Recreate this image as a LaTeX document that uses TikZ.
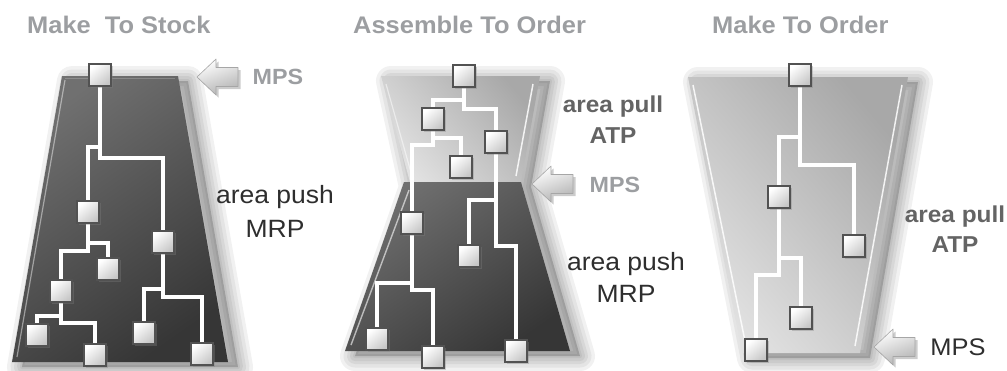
\documentclass[tikz,border=0pt]{standalone}
\usepackage{fontspec}
\setmainfont{Liberation Sans}
\newfontfamily\labelfont[FakeStretch=1.06]{Liberation Sans}
\usetikzlibrary{shadows}

\definecolor{titlegray}{HTML}{9C9EA1}
\definecolor{pullgray}{HTML}{646464}
\definecolor{pushgray}{HTML}{2E2E2E}
\definecolor{darktop}{HTML}{707070}
\definecolor{darkbot}{HTML}{363636}
\definecolor{lighttop}{HTML}{A8A8A8}
\definecolor{lightbot}{HTML}{E2E2E2}

\pgfdeclarelayer{shapes}
\pgfdeclarelayer{wires}
\pgfsetlayers{shapes,wires,main}

% blurred cast shadow, thrown to the lower right of a closed outline:
% one flat fill plus a stack of faint wide strokes that fade outwards
\newcommand\softshadow[1]{%
  \fill[black,opacity=0.18,shift={(10,5)}] #1;
  \foreach \w in {30,23,16,10,4}{%
    \draw[black,opacity=0.055,line width=\w pt,line join=round,shift={(10,5)}] #1;}}

\tikzset{
  title/.style={font=\labelfont\bfseries\fontsize{24}{28}\selectfont, text=titlegray, inner sep=0pt, anchor=base west},
  mpsgray/.style={font=\labelfont\bfseries\fontsize{22}{26}\selectfont, text=titlegray, inner sep=0pt, anchor=base},
  mpsdark/.style={font=\labelfont\fontsize{24}{28}\selectfont, text=pushgray, inner sep=0pt, anchor=base},
  pulltext/.style={font=\labelfont\bfseries\fontsize{23}{27}\selectfont, text=pullgray, inner sep=0pt, anchor=base},
  pushtext/.style={font=\labelfont\fontsize{25}{29}\selectfont, text=pushgray, inner sep=0pt, anchor=base},
  part/.style={rectangle, minimum size=22pt, inner sep=0pt, draw=black!68, line width=1.7pt,
    top color=white, bottom color=black!22, shading angle=40,
    drop shadow={shadow xshift=1.8pt, shadow yshift=-1.8pt, opacity=0.35}},
  wire/.style={draw=black!50, line width=0.6pt, double=white, double distance=3.2pt},
  darkfill/.style={shading=axis, top color=darktop, bottom color=darkbot, shading angle=35},
  lightfill/.style={shading=axis, top color=lighttop, bottom color=lightbot, shading angle=-50},
  mpsarrow/.pic={
    \fill[black, opacity=0.2, shift={(2.5,2.5)}]
      (0,0) -- (19,-18) -- (19,-9.5) -- (41,-9.5) -- (41,9.5) -- (19,9.5) -- (19,18) -- cycle;
    \shade[top color=white, bottom color=black!30, shading angle=20, draw=black!35, line width=0.6pt, line join=round]
      (0,0) -- (19,-18) -- (19,-9.5) -- (41,-9.5) -- (41,9.5) -- (19,9.5) -- (19,18) -- cycle;
  },
}

\begin{document}
\begin{tikzpicture}[x=1pt, y=-1pt]
\useasboundingbox (0,0) rectangle (1007,370);

% ---------- bodies ----------
\begin{pgfonlayer}{shapes}
  % make to stock
  \softshadow{(62,76) -- (178,76) -- (228,362) -- (12,362) -- cycle}
  \shade[darkfill] (62,76) -- (178,76) -- (228,362) -- (12,362) -- cycle;
  \draw[white, opacity=0.45, line width=1.2pt] (65,80) -- (17,357);
  \draw[white, opacity=0.2, line width=1pt] (65,78) -- (175,78);

  % assemble to order
  \softshadow{(381,76) -- (540,76) -- (521,182) -- (570,351) -- (345,351) -- (404,182) -- cycle}
  \shade[lightfill] (381,76) -- (540,76) -- (521,182) -- (410,182) -- cycle;
  \shade[darkfill] (404,182) -- (521,182) -- (570,351) -- (345,351) -- cycle;
  \draw[white, opacity=0.85, line width=1.5pt] (533,84) -- (516,176);
  \draw[white, opacity=0.5, line width=1.2pt] (386,84) -- (412,176);
  \draw[white, opacity=0.6, line width=1.4pt] (409,190) -- (351,345);

  % make to order
  \softshadow{(688,77) -- (908,77) -- (860,353) -- (742,353) -- cycle}
  \shade[lightfill] (688,77) -- (908,77) -- (860,353) -- (742,353) -- cycle;
  \draw[white, opacity=0.85, line width=1.5pt] (693,85) -- (746,346);
  \draw[white, opacity=0.85, line width=1.5pt] (902,85) -- (855,346);
\end{pgfonlayer}

% ---------- titles ----------
\node[title] (t1) at (27,33) {Make\ \ To Stock};
\node[title] (t2) at (353,33) {Assemble To Order};
\node[title] (t3) at (712,33) {Make To Order};

% ---------- side labels ----------
\pic at (197,77) {mpsarrow};
\node[mpsgray] (m1) at (278,84) {MPS};
\node[pushtext] (p1a) at (275,203) {area push};
\node[pushtext] (p1b) at (275,237) {MRP};

\node[pulltext] (l2a) at (613,112) {area pull};
\node[pulltext] (l2b) at (613,143) {ATP};
\pic at (532,184) {mpsarrow};
\node[mpsgray] (m2) at (615,192) {MPS};
\node[pushtext] (p2a) at (626,270) {area push};
\node[pushtext] (p2b) at (626,302) {MRP};

\node[pulltext] (l3a) at (955,222) {area pull};
\node[pulltext] (l3b) at (955,252) {ATP};
\pic at (874,347) {mpsarrow};
\node[mpsdark] (m3) at (958,355) {MPS};

% ---------- make to stock tree ----------
\node[part] (a1) at (100,75) {};
\node[part] (a2) at (88,212) {};
\node[part] (a3) at (163,242) {};
\node[part] (a4) at (108,269) {};
\node[part] (a5) at (61,291) {};
\node[part] (a6) at (37,335) {};
\node[part] (a7) at (95,355) {};
\node[part] (a8) at (144,333) {};
\node[part] (a9) at (202,354) {};

% ---------- assemble to order tree ----------
\node[part] (b1) at (464,76) {};
\node[part] (b2) at (433,119) {};
\node[part] (b3) at (496,142) {};
\node[part] (b4) at (461,167) {};
\node[part] (b5) at (412,223) {};
\node[part] (b6) at (469,256) {};
\node[part] (b7) at (377,339) {};
\node[part] (b8) at (433,357) {};
\node[part] (b9) at (516,351) {};

% ---------- make to order tree ----------
\node[part] (c1) at (800,75) {};
\node[part] (c2) at (779,197) {};
\node[part] (c3) at (854,246) {};
\node[part] (c4) at (801,318) {};
\node[part] (c5) at (756,350) {};

% ---------- wiring ----------
\begin{pgfonlayer}{wires}
  \draw[wire] (a1.south) -- (a1 |- 0,147) -| (a2.north);
  \draw[wire] (a1.south) -- (a1 |- 0,158) -| (a3.north);
  \draw[wire] (a2.south) -- (a2 |- 0,243) -| (a4.north);
  \draw[wire] (a2.south) -- (a2 |- 0,251) -| (a5.north);
  \draw[wire] (a5.south) -- (a5 |- 0,316) -| (a6.north);
  \draw[wire] (a5.south) -- (a5 |- 0,323) -| (a7.north);
  \draw[wire] (a3.south) -- (a3 |- 0,289) -| (a8.north);
  \draw[wire] (a3.south) -- (a3 |- 0,297) -| (a9.north);

  \draw[wire] (b1.south) -- (b1 |- 0,100) -| (b2.north);
  \draw[wire] (b1.south) -- (b1 |- 0,109) -| (b3.north);
  \draw[wire] (b2.south) -- (b2 |- 0,138) -| (b4.north);
  \draw[wire] (b2.south) -- (b2 |- 0,145) -| (b5.north);
  \draw[wire] (b5.south) -- (b5 |- 0,283) -| (b7.north);
  \draw[wire] (b5.south) -- (b5 |- 0,290) -| (b8.north);
  \draw[wire] (b3.south) -- (b3 |- 0,200) -| (b6.north);
  \draw[wire] (b3.south) -- (b3 |- 0,246) -| (b9.north);

  \draw[wire] (c1.south) -- (c1 |- 0,137) -| (c2.north);
  \draw[wire] (c1.south) -- (c1 |- 0,165) -| (c3.north);
  \draw[wire] (c2.south) -- (c2 |- 0,258) -| (c4.north);
  \draw[wire] (c2.south) -- (c2 |- 0,275) -| (c5.north);
\end{pgfonlayer}
\end{tikzpicture}
\end{document}
